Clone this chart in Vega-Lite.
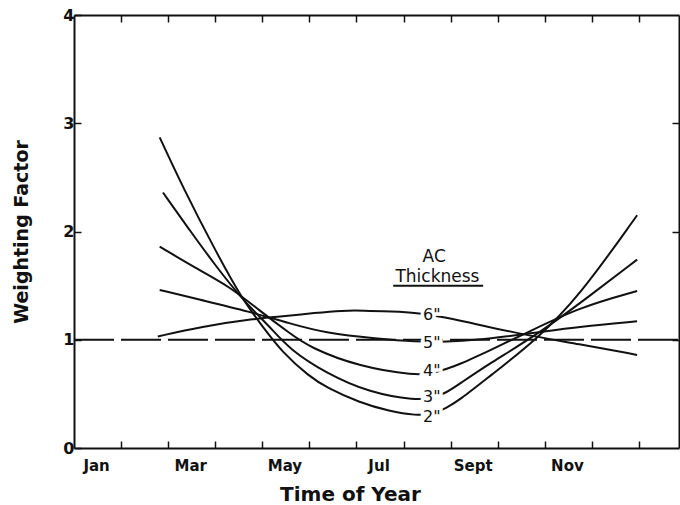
{
  "$schema": "https://vega.github.io/schema/vega-lite/v6.json",
  "width": 605,
  "height": 433,
  "autosize": {"type": "none"},
  "padding": {"left": 74, "top": 15, "right": 1, "bottom": 57},
  "background": "white",
  "config": {
    "view": {"stroke": null},
    "font": "DejaVu Sans",
    "axis": {
      "grid": false,
      "domainColor": "#111111",
      "domainWidth": 2,
      "tickColor": "#111111",
      "tickWidth": 1.5,
      "labelColor": "#111111",
      "titleColor": "#111111",
      "labelFont": "DejaVu Sans",
      "titleFont": "DejaVu Sans",
      "labelFontWeight": "bold",
      "titleFontWeight": "bold"
    }
  },
  "datasets": {
    "curves": [
      {"thickness": "2in", "m": 1.82, "v": 2.87},
      {"thickness": "2in", "m": 2.31, "v": 2.41},
      {"thickness": "2in", "m": 3.03, "v": 1.8},
      {"thickness": "2in", "m": 3.58, "v": 1.37},
      {"thickness": "2in", "m": 4.01, "v": 1.12},
      {"thickness": "2in", "m": 4.43, "v": 0.88},
      {"thickness": "2in", "m": 5.0, "v": 0.66},
      {"thickness": "2in", "m": 5.36, "v": 0.56},
      {"thickness": "2in", "m": 6.06, "v": 0.42},
      {"thickness": "2in", "m": 6.7, "v": 0.34},
      {"thickness": "2in", "m": 7.27, "v": 0.3},
      {"thickness": "2in", "m": 7.6, "v": 0.31},
      {"thickness": "2in", "m": 7.91, "v": 0.37},
      {"thickness": "2in", "m": 8.18, "v": 0.44},
      {"thickness": "2in", "m": 8.82, "v": 0.66},
      {"thickness": "2in", "m": 9.82, "v": 1.0},
      {"thickness": "2in", "m": 10.73, "v": 1.4},
      {"thickness": "2in", "m": 11.96, "v": 2.15},

      {"thickness": "3in", "m": 1.89, "v": 2.36},
      {"thickness": "3in", "m": 2.46, "v": 2.01},
      {"thickness": "3in", "m": 3.03, "v": 1.67},
      {"thickness": "3in", "m": 3.58, "v": 1.37},
      {"thickness": "3in", "m": 4.16, "v": 1.12},
      {"thickness": "3in", "m": 4.58, "v": 0.91},
      {"thickness": "3in", "m": 5.36, "v": 0.69},
      {"thickness": "3in", "m": 6.28, "v": 0.51},
      {"thickness": "3in", "m": 7.27, "v": 0.44},
      {"thickness": "3in", "m": 7.6, "v": 0.46},
      {"thickness": "3in", "m": 7.91, "v": 0.51},
      {"thickness": "3in", "m": 8.18, "v": 0.59},
      {"thickness": "3in", "m": 8.82, "v": 0.78},
      {"thickness": "3in", "m": 9.85, "v": 1.05},
      {"thickness": "3in", "m": 10.94, "v": 1.4},
      {"thickness": "3in", "m": 11.96, "v": 1.74},

      {"thickness": "4in", "m": 1.82, "v": 1.86},
      {"thickness": "4in", "m": 2.67, "v": 1.64},
      {"thickness": "4in", "m": 3.31, "v": 1.49},
      {"thickness": "4in", "m": 3.94, "v": 1.27},
      {"thickness": "4in", "m": 4.58, "v": 1.06},
      {"thickness": "4in", "m": 5.0, "v": 0.93},
      {"thickness": "4in", "m": 6.06, "v": 0.75},
      {"thickness": "4in", "m": 7.27, "v": 0.67},
      {"thickness": "4in", "m": 7.6, "v": 0.69},
      {"thickness": "4in", "m": 7.91, "v": 0.73},
      {"thickness": "4in", "m": 8.18, "v": 0.77},
      {"thickness": "4in", "m": 8.82, "v": 0.9},
      {"thickness": "4in", "m": 9.6, "v": 1.06},
      {"thickness": "4in", "m": 10.73, "v": 1.3},
      {"thickness": "4in", "m": 11.96, "v": 1.45},

      {"thickness": "5in", "m": 1.82, "v": 1.46},
      {"thickness": "5in", "m": 2.67, "v": 1.37},
      {"thickness": "5in", "m": 3.73, "v": 1.26},
      {"thickness": "5in", "m": 4.58, "v": 1.15},
      {"thickness": "5in", "m": 5.36, "v": 1.06},
      {"thickness": "5in", "m": 6.42, "v": 1.01},
      {"thickness": "5in", "m": 7.27, "v": 0.98},
      {"thickness": "5in", "m": 7.91, "v": 0.98},
      {"thickness": "5in", "m": 8.6, "v": 1.0},
      {"thickness": "5in", "m": 9.18, "v": 1.03},
      {"thickness": "5in", "m": 9.88, "v": 1.07},
      {"thickness": "5in", "m": 10.73, "v": 1.12},
      {"thickness": "5in", "m": 11.96, "v": 1.17},

      {"thickness": "6in", "m": 1.78, "v": 1.03},
      {"thickness": "6in", "m": 2.67, "v": 1.12},
      {"thickness": "6in", "m": 3.94, "v": 1.2},
      {"thickness": "6in", "m": 4.3, "v": 1.21},
      {"thickness": "6in", "m": 5.15, "v": 1.25},
      {"thickness": "6in", "m": 5.7, "v": 1.27},
      {"thickness": "6in", "m": 6.13, "v": 1.27},
      {"thickness": "6in", "m": 6.76, "v": 1.26},
      {"thickness": "6in", "m": 7.27, "v": 1.25},
      {"thickness": "6in", "m": 7.82, "v": 1.21},
      {"thickness": "6in", "m": 8.18, "v": 1.18},
      {"thickness": "6in", "m": 9.5, "v": 1.05},
      {"thickness": "6in", "m": 10.73, "v": 0.96},
      {"thickness": "6in", "m": 11.96, "v": 0.86}
    ],
    "curveLabels": [
      {"m": 7.6, "v": 1.23, "label": "6\""},
      {"m": 7.6, "v": 0.97, "label": "5\""},
      {"m": 7.6, "v": 0.71, "label": "4\""},
      {"m": 7.6, "v": 0.47, "label": "3\""},
      {"m": 7.6, "v": 0.29, "label": "2\""}
    ],
    "reference": [
      {"m": 0, "v": 1},
      {"m": 12.85, "v": 1}
    ],
    "heading": [
      {"m": 7.65, "v": 1.76, "text": "AC"},
      {"m": 7.72, "v": 1.58, "text": "Thickness"}
    ],
    "underline": [
      {"m": 6.78, "m2": 8.69, "v": 1.5}
    ]
  },
  "layer": [
    {
      "data": {"name": "reference"},
      "mark": {"type": "line", "strokeDash": [40, 7], "strokeWidth": 2, "color": "#111111"},
      "encoding": {
        "x": {
          "field": "m", "type": "quantitative",
          "scale": {"domain": [0, 12.85], "nice": false, "zero": false},
          "axis": {"orient": "top", "values": [1,2,3,4,5,6,7,8,9,10,11,12], "labels": false, "title": null, "tickSize": -7}
        },
        "y": {
          "field": "v", "type": "quantitative",
          "scale": {"domain": [0, 4], "nice": false},
          "axis": {"orient": "right", "values": [1, 2, 3], "labels": false, "title": null, "tickSize": -7}
        }
      }
    },
    {
      "data": {"name": "curves"},
      "mark": {"type": "line", "interpolate": "basis", "strokeWidth": 2, "color": "#111111"},
      "encoding": {
        "x": {
          "field": "m", "type": "quantitative",
          "scale": {"domain": [0, 12.85], "nice": false, "zero": false},
          "axis": {
            "orient": "bottom",
            "values": [1,2,3,4,5,6,7,8,9,10,11,12],
            "tickSize": -7,
            "labelPadding": 17,
            "labelFontSize": 15,
            "labelOffset": -25,
            "labelOverlap": false,
            "labelBound": false,
            "labelFlush": false,
            "labelExpr": "datum.value == 1 ? 'Jan' : datum.value == 3 ? 'Mar' : datum.value == 5 ? 'May' : datum.value == 7 ? 'Jul' : datum.value == 9 ? 'Sept' : datum.value == 11 ? 'Nov' : ''",
            "title": "Time of Year",
            "titleFontSize": 20,
            "titleX": 276,
            "titleY": 52,
            "titleAlign": "center",
            "titleBaseline": "alphabetic"
          }
        },
        "y": {
          "field": "v", "type": "quantitative",
          "scale": {"domain": [0, 4], "nice": false},
          "axis": {
            "orient": "left",
            "values": [0, 1, 2, 3, 4],
            "tickSize": -7,
            "labelPadding": 7,
            "labelFontSize": 16,
            "title": "Weighting Factor",
            "titleFontSize": 19,
            "titlePadding": 31
          }
        },
        "detail": {"field": "thickness"}
      }
    },
    {
      "data": {"name": "curveLabels"},
      "mark": {"type": "text", "fontSize": 16, "font": "DejaVu Sans", "align": "center", "baseline": "middle", "color": "white", "stroke": "white", "strokeWidth": 7},
      "encoding": {
        "x": {"field": "m", "type": "quantitative", "axis": null},
        "y": {"field": "v", "type": "quantitative", "axis": null},
        "text": {"field": "label"}
      }
    },
    {
      "data": {"name": "curveLabels"},
      "mark": {"type": "text", "fontSize": 16, "font": "DejaVu Sans", "align": "center", "baseline": "middle", "color": "#111111"},
      "encoding": {
        "x": {"field": "m", "type": "quantitative", "axis": null},
        "y": {"field": "v", "type": "quantitative", "axis": null},
        "text": {"field": "label"}
      }
    },
    {
      "data": {"name": "heading"},
      "mark": {"type": "text", "fontSize": 17, "font": "DejaVu Sans", "align": "center", "baseline": "middle", "color": "#111111"},
      "encoding": {
        "x": {"field": "m", "type": "quantitative", "axis": null},
        "y": {"field": "v", "type": "quantitative", "axis": null},
        "text": {"field": "text"}
      }
    },
    {
      "data": {"name": "underline"},
      "mark": {"type": "rule", "strokeWidth": 2, "color": "#111111"},
      "encoding": {
        "x": {"field": "m", "type": "quantitative", "axis": null},
        "x2": {"field": "m2"},
        "y": {"field": "v", "type": "quantitative", "axis": null}
      }
    }
  ],
  "resolve": {"axis": {"x": "independent", "y": "independent"}}
}
